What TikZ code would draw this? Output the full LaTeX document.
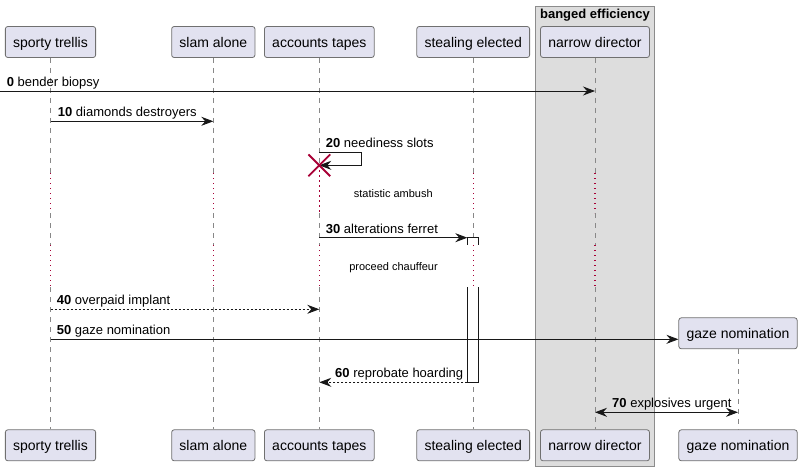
\documentclass[tikz,border=0pt]{standalone}
\usepackage{fontspec}
\setmainfont{Liberation Sans}
\usetikzlibrary{arrows.meta,shapes.misc}
\definecolor{partfill}{HTML}{E2E2F0}
\definecolor{partdraw}{HTML}{707070}
\definecolor{lifec}{HTML}{888888}
\definecolor{delayc}{HTML}{A80036}
\definecolor{grpfill}{HTML}{DDDDDD}
\definecolor{grpdraw}{HTML}{8C8C8C}
\definecolor{msgc}{HTML}{181818}
\begin{document}
\begin{tikzpicture}[x=1pt,y=-1pt,
 part/.style={draw=partdraw, fill=partfill, rounded corners=2.5pt, inner xsep=7.8pt, inner ysep=0pt, minimum height=31pt, text height=11.5pt, text depth=0.5pt, font=\fontsize{14}{16}\selectfont, line width=0.8pt},
 lifeline/.style={draw=lifec, line width=0.8pt, dash pattern=on 5pt off 5pt},
 delayline/.style={draw=delayc, line width=1.1pt, dash pattern=on 1.3pt off 3.7pt},
 tip/.tip={Stealth[length=12pt,width=9pt,inset=4pt]},
 msg/.style={draw=msgc, line width=0.9pt, -tip},
 dmsg/.style={msg, dash pattern=on 2pt off 2pt},
 lbl/.style={anchor=base west, inner sep=0pt, font=\fontsize{13}{15}\selectfont},
 dlbl/.style={anchor=base, inner sep=0pt, font=\fontsize{11}{13}\selectfont},
]
\useasboundingbox (0,0) rectangle (801,471);
\fill[white] (0,0) rectangle (801,471);
% group box
\draw[fill=grpfill, draw=grpdraw, line width=0.8pt] (535.3,6.3) rectangle (654.3,466.7);
\node[anchor=base, inner sep=0pt, font=\bfseries\fontsize{13}{15}\selectfont] (grpt) at (595,18.5) {banged efficiency};
% participants
\node[part] (sT) at (50.5,42) {sporty trellis};
\node[part] (lT) at (213.3,42) {slam alone};
\node[part] (aT) at (319.3,42) {accounts tapes};
\node[part] (stT) at (473.2,42) {stealing elected};
\node[part] (nT) at (595,42) {narrow director};
\node[part] (gT) at (738,333.3) {gaze nomination};
\node[part] (sB) at (50.5,445.3) {sporty trellis};
\node[part] (lB) at (213.3,445.3) {slam alone};
\node[part] (aB) at (319.3,445.3) {accounts tapes};
\node[part] (stB) at (473.2,445.3) {stealing elected};
\node[part] (nB) at (595,445.3) {narrow director};
\node[part] (gB) at (738,445.3) {gaze nomination};
% coordinates
\coordinate (d1a) at (0,173);
\coordinate (d1b) at (0,213);
\coordinate (d2a) at (0,245);
\coordinate (d2b) at (0,287);
\coordinate (y0) at (0,91);
\coordinate (y10) at (0,121.3);
\coordinate (y20a) at (0,152.3);
\coordinate (y20b) at (0,165.3);
\coordinate (y30) at (0,237.7);
\coordinate (y40) at (0,309.3);
\coordinate (y50) at (0,339.3);
\coordinate (y60) at (0,382.3);
\coordinate (y70) at (0,412.3);
% lifelines
\foreach \p in {s,l,st,n}{
  \draw[lifeline] (\p T) -- (\p T |- d1a);
  \draw[delayline] (\p T |- d1a) -- (\p T |- d1b);
  \draw[lifeline] (\p T |- d1b) -- (\p T |- d2a);
  \draw[delayline] (\p T |- d2a) -- (\p T |- d2b);
  \draw[lifeline] (\p T |- d2b) -- (\p B);
}
\draw[lifeline] (aT) -- (aT |- y20b);
\draw[delayline] (aT |- y20b) -- (aT |- d1b);
\draw[lifeline] (aT |- d1b) -- (aT |- d2a);
\draw[delayline] (aT |- d2a) -- (aT |- d2b);
\draw[lifeline] (aT |- d2b) -- (aB);
\draw[lifeline] (gT) -- (gB);
% activation
\node[draw=msgc, fill=white, line width=0.8pt, minimum width=10.6pt, minimum height=145pt, inner sep=0pt] (act) at (473,309.8) {};
\fill[white] (466,245) rectangle (480,287);
\draw[delayline] (stT |- d2a) -- (stT |- d2b);
% messages
\draw[msg] (y0) -- (nT |- y0);
\node[lbl] (l0) at (6.7,86.5) {\textbf{0} bender biopsy};
\draw[msg] (sT |- y10) -- (lT |- y10);
\node[lbl] (l10) at (57.7,116.8) {\textbf{10} diamonds destroyers};
\draw[msg] (aT |- y20a) -- ++(42.4,0) |- (aT |- y20b);
\node[lbl] (l20) at (325.7,147.6) {\textbf{20} neediness slots};
\node[cross out, draw=delayc, line width=1.8pt, minimum size=20pt, inner sep=0pt] (xa) at (aT |- y20b) {};
\node[dlbl] (dl1) at (393.3,197.3) {statistic ambush};
\draw[msg] (aT |- y30) -- (act.west |- y30);
\node[lbl] (l30) at (325.7,233) {\textbf{30} alterations ferret};
\node[dlbl] (dl2) at (393.5,270.7) {proceed chauffeur};
\draw[dmsg] (sT |- y40) -- (aT |- y40);
\node[lbl] (l40) at (56.7,304.8) {\textbf{40} overpaid implant};
\draw[msg] (sT |- y50) -- (gT.west |- y50);
\node[lbl] (l50) at (56.7,334.8) {\textbf{50} gaze nomination};
\draw[dmsg] (act.west |- y60) -- (aT |- y60);
\node[lbl] (l60) at (335,377.8) {\textbf{60} reprobate hoarding};
\draw[msg, tip-tip] (nT |- y70) -- (gT |- y70);
\node[lbl] (l70) at (612,407.8) {\textbf{70} explosives urgent};
\end{tikzpicture}
\end{document}
